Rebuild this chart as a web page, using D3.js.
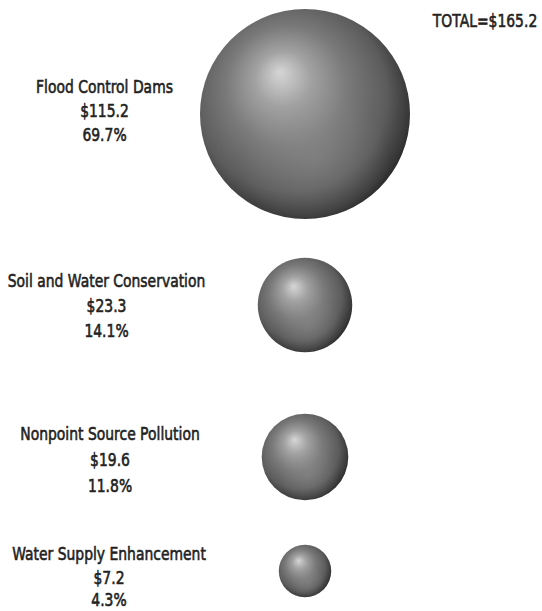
<!DOCTYPE html>
<html><head><meta charset="utf-8">
<script src="https://cdn.jsdelivr.net/npm/d3@7"></script>
<style>
body{margin:0;background:#fff;}
text{font-family:"DejaVu Sans",sans-serif;fill:#222;stroke:#222;stroke-width:0.65px;}
</style></head>
<body><svg id="c" width="542" height="611"></svg>
<script>
const categories = ["Flood Control Dams","Soil and Water Conservation","Nonpoint Source Pollution","Water Supply Enhancement"];
const amounts = [115.2, 23.3, 19.6, 7.2];
const percents = ["69.7%","14.1%","11.8%","4.3%"];
const totalLabel = "TOTAL=$165.2";

// layout
const centersY = [114, 305, 457, 571];
const labelX = [104.5, 106.5, 110, 109];
const baselines = [[93,117,141],[287,312,337],[440,466,492],[560,584,606]];
const FS = 18.5;

const svg = d3.select("#c");
// measure to get a condensed look: "Flood Control Dams" is ~137px wide in the reference
const probe = svg.append("text").attr("font-size",FS).text(categories[0]);
const SX = 137 / probe.node().getComputedTextLength();
probe.remove();

const defs = svg.append("defs");
const g1 = defs.append("radialGradient").attr("id","sph")
  .attr("cx","0.45").attr("cy","0.45").attr("r","0.6").attr("fx","0.38").attr("fy","0.3");
[[0,"#d6d6d6"],[0.22,"#a2a2a2"],[0.48,"#7a7a7a"],[0.76,"#5c5c5c"],[0.92,"#383838"],[1,"#1e1e1e"]]
  .forEach(([o,c])=>g1.append("stop").attr("offset",o).attr("stop-color",c));
const g2 = defs.append("radialGradient").attr("id","refl")
  .attr("cx","0.55").attr("cy","0.72").attr("r","0.35");
g2.append("stop").attr("offset",0).attr("stop-color","#9a9a9a").attr("stop-opacity",0.35);
g2.append("stop").attr("offset",1).attr("stop-color","#9a9a9a").attr("stop-opacity",0);

const r = d3.scaleSqrt().domain([0, d3.max(amounts)]).range([0, 105]);
const cx = 305;

const data = categories.map((c,i)=>({c, a:amounts[i], p:percents[i], y:centersY[i]}));
const grp = svg.selectAll("g.item").data(data).join("g").attr("class","item");
grp.append("circle").attr("cx",cx).attr("cy",d=>d.y).attr("r",d=>r(d.a)).attr("fill","url(#sph)");
grp.append("circle").attr("cx",cx).attr("cy",d=>d.y).attr("r",d=>r(d.a)).attr("fill","url(#refl)");

grp.each(function(d,i){
  const t = d3.select(this).append("g").attr("transform",`translate(${labelX[i]},0) scale(${SX},1)`)
    .append("text").attr("text-anchor","middle").attr("font-size",FS);
  const lines=[d.c,"$"+d.a.toFixed(1),d.p];
  lines.forEach((l,k)=>t.append("tspan").attr("x",0).attr("y",baselines[i][k]).text(l));
});
svg.append("g").attr("transform",`translate(485,0) scale(${SX},1)`)
  .append("text").attr("x",0).attr("y",27).attr("text-anchor","middle").attr("font-size",FS).text(totalLabel);
</script></body></html>
